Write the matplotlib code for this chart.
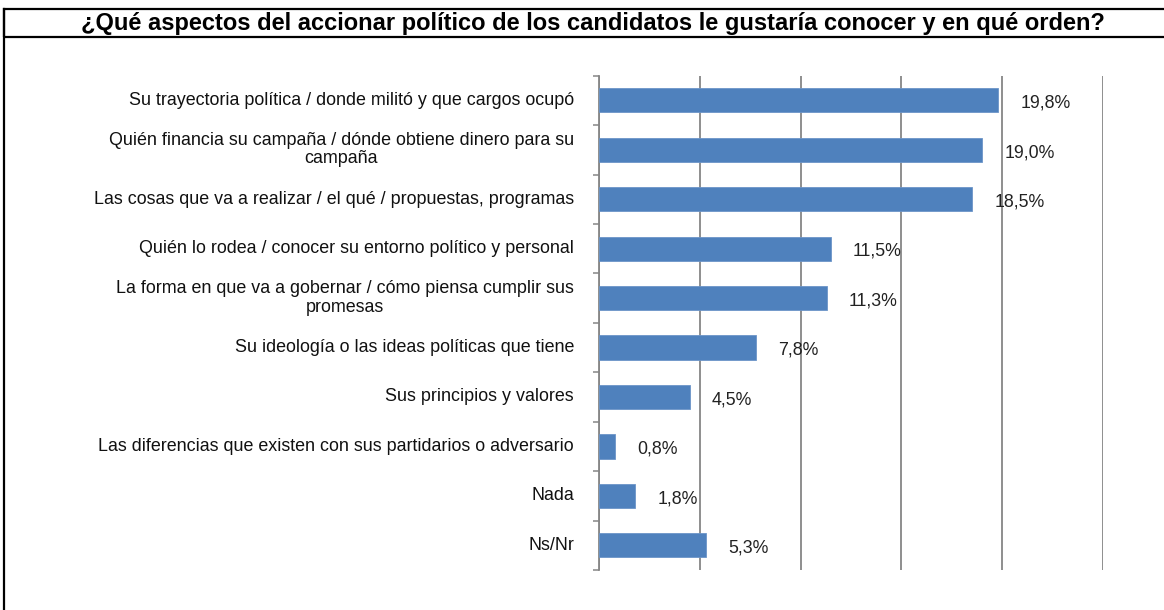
import matplotlib
matplotlib.use('Agg')
import matplotlib.pyplot as plt
from matplotlib.patches import Rectangle
from matplotlib.lines import Line2D

categories = [
    'Su trayectoria política / donde militó y que cargos ocupó',
    'Quién financia su campaña / dónde obtiene dinero para su\ncampaña',
    'Las cosas que va a realizar / el qué / propuestas, programas',
    'Quién lo rodea / conocer su entorno político y personal',
    'La forma en que va a gobernar / cómo piensa cumplir sus\npromesas',
    'Su ideología o las ideas políticas que tiene',
    'Sus principios y valores',
    'Las diferencias que existen con sus partidarios o adversario',
    'Nada',
    'Ns/Nr',
]
values = [19.8, 19.0, 18.5, 11.5, 11.3, 7.8, 4.5, 0.8, 1.8, 5.3]
value_labels = ['19,8%', '19,0%', '18,5%', '11,5%', '11,3%', '7,8%', '4,5%', '0,8%', '1,8%', '5,3%']
title = '¿Qué aspectos del accionar político de los candidatos le gustaría conocer y en qué orden?'

plt.rcParams['font.family'] = ['Liberation Sans', 'DejaVu Sans']

fig = plt.figure(figsize=(11.64, 6.10), dpi=100)
ax = fig.add_axes([0.5146, 0.0656, 0.433, 0.8104])

grid_col = '#868686'
ypos = list(range(len(categories)))
ax.barh(ypos, values, height=0.49, color='#4F81BD', edgecolor='#6C95C8', linewidth=0.6, zorder=3)

for y, v, lab in zip(ypos, values, value_labels):
    ax.annotate(lab, (v, y), xytext=(16, -2), textcoords='offset points',
                ha='left', va='center', fontsize=12.8, color='#222222', zorder=4)

ax.set_xlim(0, 25)
ax.set_ylim(len(categories) - 0.5, -0.5)
ax.set_xticks([0, 5, 10, 15, 20, 25])
ax.set_xticklabels([])
ax.tick_params(axis='x', length=0)
ax.grid(axis='x', color=grid_col, linewidth=1.3, zorder=0)

# category labels placed manually so they sit centred between the boundary ticks
ax.set_yticks([y - 0.5 for y in ypos] + [len(categories) - 0.5])
ax.set_yticklabels([])
ax.tick_params(axis='y', length=4, width=1.1, color=grid_col, direction='out')
for y, cat in zip(ypos, categories):
    ax.annotate(cat, (0, y), xytext=(-18, 0), textcoords='offset points',
                ha='right', va='center', multialignment='center',
                fontsize=12.9, color='#111111', linespacing=1.1)

for s in ['top', 'right', 'bottom']:
    ax.spines[s].set_visible(False)
ax.spines['left'].set_color(grid_col)
ax.spines['left'].set_linewidth(1.3)

# outer frame and title box
fig.add_artist(Line2D([0.0035, 0.0035], [0, 0.986], transform=fig.transFigure, color='black', lw=1.6))
fig.add_artist(Rectangle((0.0035, 0.9393), 0.999, 0.0467, transform=fig.transFigure,
                         fill=False, edgecolor='black', lw=1.6))
fig.text(0.509, 0.962, title, ha='center', va='center', fontsize=17, fontweight='bold')

fig.savefig('out.png', dpi=100)
